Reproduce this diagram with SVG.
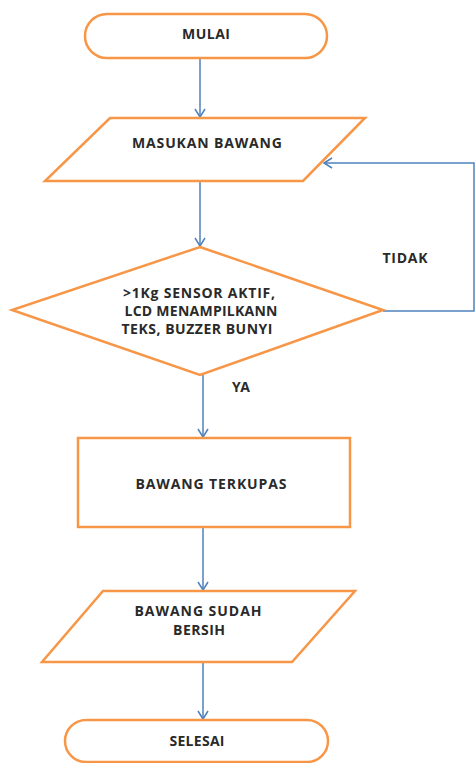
<svg xmlns="http://www.w3.org/2000/svg" width="476" height="763" viewBox="0 0 476 763">
<style>
.s{fill:#fff;stroke:#f79646;stroke-width:2.5}
.t{font-family:"Open Sans","Liberation Sans",sans-serif;font-weight:700;font-size:14px;fill:#2a2a2a;text-anchor:middle}
.c{fill:none;stroke:#4f81bd;stroke-width:1.5}
</style>
<defs>
<marker id="a" markerWidth="12" markerHeight="12" refX="10" refY="6" orient="auto" markerUnits="userSpaceOnUse">
<polyline points="2,1 10,6 2,11" fill="none" stroke="#4f81bd" stroke-width="1.5"/>
</marker>
</defs>
<g id="connectors">
<line class="c" x1="200" y1="58" x2="200" y2="117" marker-end="url(#a)"/>
<line class="c" x1="200" y1="181" x2="200" y2="246" marker-end="url(#a)"/>
<polyline class="c" points="383,311 474,311 474,163 324,163" marker-end="url(#a)"/>
<line class="c" x1="203" y1="375" x2="203" y2="437" marker-end="url(#a)"/>
<line class="c" x1="203" y1="527" x2="203" y2="590" marker-end="url(#a)"/>
<line class="c" x1="203" y1="662" x2="203" y2="719" marker-end="url(#a)"/>
<text class="t" x="405" y="263" textLength="45" lengthAdjust="spacing">TIDAK</text>
<text class="t" x="241" y="392" textLength="18" lengthAdjust="spacing">YA</text>
</g>
<g id="mulai">
<rect class="s" x="85" y="14" width="242" height="44" rx="22"/>
<text class="t" x="206" y="39" textLength="48" lengthAdjust="spacing">MULAI</text>
</g>
<g id="masukan">
<polygon class="s" points="110,118 365,118 303,181 45,181"/>
<text class="t" x="207" y="148" textLength="150" lengthAdjust="spacing">MASUKAN BAWANG</text>
</g>
<g id="decision">
<polygon class="s" points="200,247 383,310 200,375 12,310"/>
<text class="t" x="199" y="298" textLength="152" lengthAdjust="spacing">&gt;1Kg SENSOR AKTIF,</text>
<text class="t" x="201" y="316" textLength="153" lengthAdjust="spacing">LCD MENAMPILKANN</text>
<text class="t" x="197" y="334" textLength="151" lengthAdjust="spacing">TEKS, BUZZER BUNYI</text>
</g>
<g id="terkupas">
<rect class="s" x="78" y="438" width="272" height="89"/>
<text class="t" x="211" y="489" textLength="151" lengthAdjust="spacing">BAWANG TERKUPAS</text>
</g>
<g id="bersih">
<polygon class="s" points="103,591 355,591 292,662 42,662"/>
<text class="t" x="198" y="616" textLength="127" lengthAdjust="spacing">BAWANG SUDAH</text>
<text class="t" x="199" y="635" textLength="52" lengthAdjust="spacing">BERSIH</text>
</g>
<g id="selesai">
<rect class="s" x="65" y="720" width="263" height="42" rx="21"/>
<text class="t" x="197" y="746" textLength="55" lengthAdjust="spacing">SELESAI</text>
</g>
</svg>
